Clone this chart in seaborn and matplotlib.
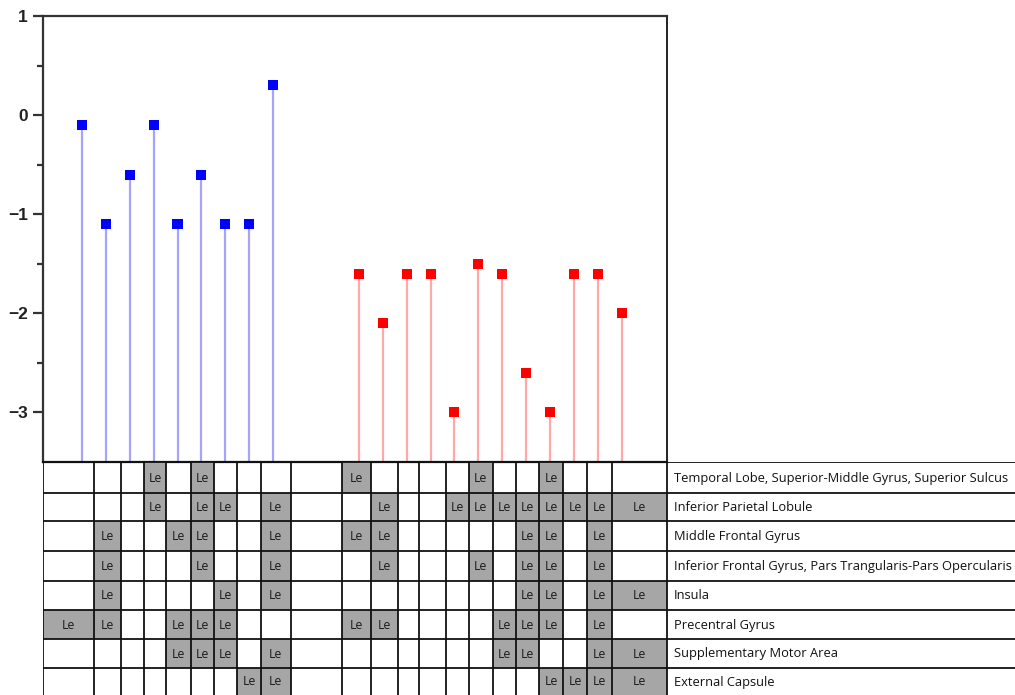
import matplotlib
matplotlib.use("Agg")
import matplotlib.pyplot as plt
import seaborn as sns
from matplotlib.patches import Rectangle

# Stem positions (index units) and effect values
blue_pos = [1, 2, 3, 4, 5, 6, 7, 8, 9]
blue_vals = [-0.1, -1.1, -0.6, -0.1, -1.1, -0.6, -1.1, -1.1, 0.3]
red_pos = [12.6, 13.6, 14.6, 15.6, 16.6, 17.6, 18.6, 19.6, 20.6, 21.6, 22.6, 23.6]
red_vals = [-1.6, -2.1, -1.6, -1.6, -3.0, -1.5, -1.6, -2.6, -3.0, -1.6, -1.6, -2.0]

y_ticks = [1, 0, -1, -2, -3]

# Lesion-site table: columns 1-9 follow the blue stems, 10 is a spacer,
# 11-22 follow the red stems
regions = [
    "Temporal Lobe, Superior-Middle Gyrus, Superior Sulcus",
    "Inferior Parietal Lobule",
    "Middle Frontal Gyrus",
    "Inferior Frontal Gyrus, Pars Trangularis-Pars Opercularis",
    "Insula",
    "Precentral Gyrus",
    "Supplementary Motor Area",
    "External Capsule",
]
le_temporal = [4, 6, 11, 16, 19]
le_parietal = [4, 6, 7, 9, 12, 15, 16, 17, 18, 19, 20, 21, 22]
le_middle_frontal = [2, 5, 6, 9, 11, 12, 18, 19, 21]
le_inferior_frontal = [2, 6, 9, 12, 16, 18, 19, 21]
le_insula = [2, 7, 9, 18, 19, 21, 22]
le_precentral = [1, 2, 5, 6, 7, 11, 12, 17, 18, 19, 21]
le_sma = [5, 6, 7, 9, 17, 18, 21, 22]
le_external = [8, 9, 19, 20, 21, 22]
cell_label = "Le"

lesion_rows = [le_temporal, le_parietal, le_middle_frontal, le_inferior_frontal,
               le_insula, le_precentral, le_sma, le_external]

# ---- layout (figure pixels) ----
W, H = 1015, 695
ax_left, ax_right, ax_top, ax_bottom = 43, 667, 16, 462
col_edges = [43, 94.3, 120.7, 144.3, 166, 191, 214, 237.3, 260.7, 290.7, 341.7,
             371, 397.7, 419.3, 446, 468.7, 492.7, 515.7, 539.3, 563.3, 587.3,
             612, 667]
row_edges = [462, 493.3, 521, 551, 580.7, 610, 639.3, 667.7, 698]

sns.set_theme(style="ticks")
plt.rcParams["font.family"] = ["Liberation Sans", "DejaVu Sans"]

fig = plt.figure(figsize=(W / 100, H / 100), dpi=100)
ax = fig.add_axes([ax_left / W, (H - ax_bottom) / H,
                   (ax_right - ax_left) / W, (ax_bottom - ax_top) / H])

ymin, ymax = -3.5, 1
unit = (273 - 82) / 8.0
xmin = blue_pos[0] - (82 - ax_left) / unit
xmax = blue_pos[0] + (ax_right - 82) / unit

ax.vlines(blue_pos, ymin, blue_vals, colors="#a4a4ff", lw=1.6, zorder=2)
ax.vlines(red_pos, ymin, red_vals, colors="#ffa8a8", lw=1.6, zorder=2)
sns.scatterplot(x=blue_pos, y=blue_vals, marker="s", s=52, color="#0000ff",
                edgecolor="none", ax=ax, zorder=3)
sns.scatterplot(x=red_pos, y=red_vals, marker="s", s=52, color="#ff0000",
                edgecolor="none", ax=ax, zorder=3)

ax.set_xlim(xmin, xmax)
ax.set_ylim(ymin, ymax)
ax.set_xticks([])
ax.set_yticks(y_ticks)
ax.set_yticklabels([f"{t:d}".replace("-", "\u2212") for t in y_ticks],
                   fontsize=12.5, fontweight="bold", color="#222222")
ax.set_yticks([0.5, -0.5, -1.5, -2.5], minor=True)
ax.tick_params(axis="y", which="major", length=7, width=1.6, color="#333333",
               direction="out", pad=4)
ax.tick_params(axis="y", which="minor", length=4, width=1.6, color="#333333",
               direction="out")
for side in ["left", "top", "bottom"]:
    ax.spines[side].set_visible(True)
    ax.spines[side].set_linewidth(1.6)
    ax.spines[side].set_color("#333333")
ax.spines["right"].set_linewidth(1.4)
ax.spines["right"].set_color("#222222")
ax.spines["bottom"].set_color("#111111")

# ---- lesion table ----
tab = fig.add_axes([ax_left / W, 0, (W - ax_left) / W, (H - ax_bottom) / H])
tab.set_xlim(ax_left, W)
tab.set_ylim(H, ax_bottom)
tab.axis("off")

for r, cols in enumerate(lesion_rows):
    y0, y1 = row_edges[r], row_edges[r + 1]
    for c in cols:
        x0, x1 = col_edges[c - 1], col_edges[c]
        tab.add_patch(Rectangle((x0, y0), x1 - x0, y1 - y0, facecolor="#a6a6a6",
                                edgecolor="none", zorder=1))
        tab.text((x0 + x1) / 2, (y0 + min(y1, 695)) / 2 + 0.5, cell_label,
                 ha="center", va="center", fontsize=8.8, family="Open Sans",
                 color="#1a1a1a", zorder=3)
    tab.text(674, (y0 + min(y1, 697)) / 2 + 0.5, regions[r], ha="left",
             va="center", fontsize=9.3, family="Open Sans", color="#111111",
             zorder=3)

for x in col_edges:
    tab.plot([x, x], [ax_bottom, 698], color="#111111", lw=1.3, zorder=2,
             solid_capstyle="butt")
for y in row_edges:
    tab.plot([ax_left, W], [y, y], color="#111111", lw=1.3, zorder=2,
             solid_capstyle="butt")

fig.savefig("out.png", dpi=100)
